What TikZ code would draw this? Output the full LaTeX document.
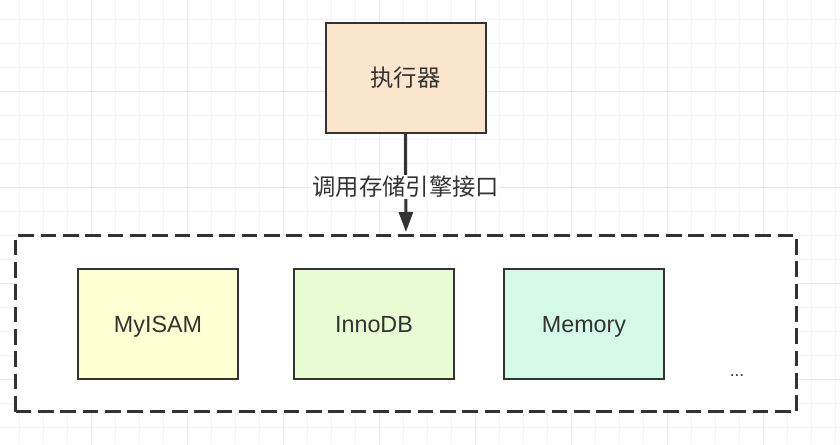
\documentclass[tikz,border=0pt]{standalone}
\usepackage{fontspec}
\setmainfont{Liberation Sans}
\newfontfamily\cjkfont{Noto Sans CJK SC}
\usetikzlibrary{arrows.meta}

\definecolor{textgray}{HTML}{333333}
\definecolor{gridminor}{HTML}{F3F3F3}
\definecolor{gridmajor}{HTML}{E8E8E8}
\definecolor{execfill}{HTML}{FCE5CD}
\definecolor{myisamfill}{HTML}{FFFFD3}
\definecolor{innodbfill}{HTML}{E7FCD3}
\definecolor{memoryfill}{HTML}{D5FAE7}

\begin{document}
\begin{tikzpicture}[x=0.75pt, y=-0.75pt,
        grid_minor_style/.style={draw=gridminor, line width=0.75pt},
        grid_major_style/.style={draw=gridmajor, line width=0.75pt},
        box_style/.style={rectangle, draw=textgray, line width=1.5pt, minimum width=120pt, minimum height=82.5pt, inner sep=0pt, text height=12.5pt, text depth=0pt, text=textgray, font=\fontsize{17.5}{21}\selectfont},
        exec_style/.style={box_style, fill=execfill, font=\cjkfont\fontsize{17.5}{21}\selectfont},
        group_style/.style={rectangle, draw=textgray, fill=white, line width=2.25pt, dash pattern=on 11.75pt off 5pt, minimum width=585.75pt, minimum height=132pt, inner sep=0pt},
        label_style/.style={fill=white, text=textgray, inner sep=1pt, font=\cjkfont\fontsize{17.5}{21}\selectfont},
        edge_style/.style={draw=textgray, line width=2.25pt, -{Triangle[length=15pt, width=10.5pt]}}]

        \useasboundingbox (0,0) rectangle (840,444);
        \fill[white] (0,0) rectangle (840,444);

        \foreach \gx in {19,43,...,835}
            \draw [grid_minor_style] (\gx,0) -- (\gx,444);
        \foreach \gy in {19,43,...,427}
            \draw [grid_minor_style] (0,\gy) -- (840,\gy);
        \foreach \gx in {91,187,...,763}
            \draw [grid_major_style] (\gx,0) -- (\gx,444);
        \foreach \gy in {91,187,...,379}
            \draw [grid_major_style] (0,\gy) -- (840,\gy);

        \node [group_style](group) at (406,323.5) {};

        \node [exec_style](exec) at (405.5,78) {执行器};

        \node [box_style, fill=myisamfill](myisam) at (158,324) {MyISAM};

        \node [box_style, fill=innodbfill](innodb) at (374,324) {InnoDB};

        \node [box_style, fill=memoryfill](memory) at (584,324) {Memory};

        \node [text=textgray, font=\fontsize{13}{15}\selectfont](more) at (737,376) {...};

        \draw [edge_style, shorten >=1.5pt] (exec.south) -- node[label_style, pos=0.53](call){调用存储引擎接口} (group.north);

        \end{tikzpicture}
\end{document}
